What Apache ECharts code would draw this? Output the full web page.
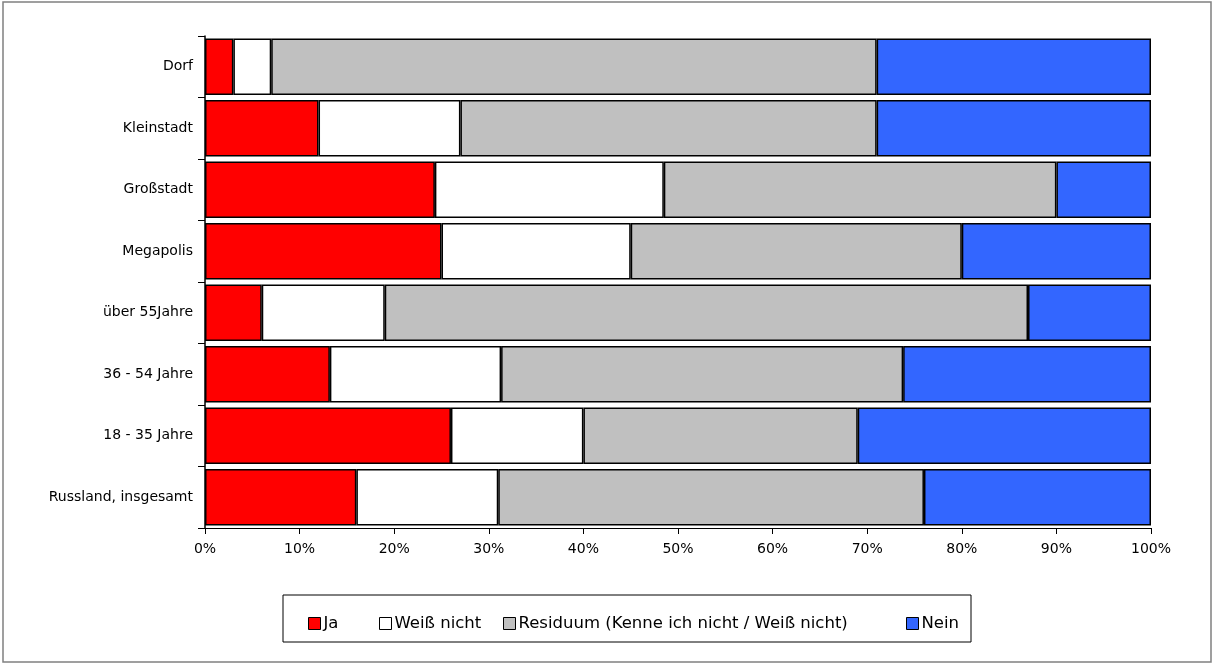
<!DOCTYPE html>
<html>
<head>
<meta charset="utf-8">
<script src="https://cdn.jsdelivr.net/npm/echarts@6/dist/echarts.min.js"></script>
<style>
  html, body { margin: 0; padding: 0; background: #fff; }
  #chart { width: 1213px; height: 665px; }
</style>
</head>
<body>
<div id="chart"></div>
<script>
// Kategorien von oben nach unten
const categories = ['Dorf', 'Kleinstadt', 'Großstadt', 'Megapolis', 'über 55Jahre', '36 - 54 Jahre', '18 - 35 Jahre', 'Russland, insgesamt'];
const ja = [3, 12, 24.3, 25, 6, 13.2, 26, 16];
const weissNicht = [4, 15, 24.2, 20, 13, 18.1, 14, 15];
const residuum = [64, 44, 41.5, 35, 68, 42.5, 29, 45];
const nein = [29, 29, 10, 20, 13, 26.2, 31, 24];
const xTicks = [0, 10, 20, 30, 40, 50, 60, 70, 80, 90, 100];
const legendNames = ['Ja', 'Weiß nicht', 'Residuum (Kenne ich nicht / Weiß nicht)', 'Nein'];

const font = '"DejaVu Sans", sans-serif';

function bar(name, data, color) {
    return {
        name: name,
        type: 'bar',
        stack: 'all',
        data: data,
        barCategoryGap: '8%',
        itemStyle: { color: color, borderColor: '#000', borderWidth: 1.5 }
    };
}

// jede Legende einzeln, damit die Abstaende wie im Original sind
const legendLeft = [303, 374, 498, 901];
const legends = legendNames.map(function (n, i) {
    return {
        left: legendLeft[i],
        top: 610,
        itemWidth: 12,
        itemHeight: 12,
        itemGap: 0,
        icon: 'rect',
        textStyle: { fontSize: 16.5, color: '#000', fontFamily: font, padding: [0, 0, 0, -2] },
        itemStyle: { borderColor: '#000', borderWidth: 1 },
        data: [n]
    };
});

const myChart = echarts.init(document.getElementById('chart'));
myChart.setOption({
    animation: false,
    textStyle: { fontFamily: font },
    graphic: [
        {
            type: 'rect',
            shape: { x: 3, y: 2, width: 1208, height: 660 },
            style: { fill: 'none', stroke: '#808080', lineWidth: 1.5 },
            silent: true
        },
        {
            type: 'rect',
            shape: { x: 283, y: 595, width: 688, height: 47 },
            style: { fill: 'none', stroke: '#000', lineWidth: 1 },
            silent: true
        }
    ],
    legend: legends,
    grid: { left: 205, right: 62, top: 36, bottom: 137 },
    xAxis: {
        type: 'value',
        min: xTicks[0],
        max: xTicks[xTicks.length - 1],
        interval: 10,
        axisLine: { show: true, lineStyle: { color: '#000', width: 1 } },
        axisTick: { show: true, length: 6, lineStyle: { color: '#000' } },
        splitLine: { show: false },
        axisLabel: { formatter: '{value}%', color: '#000', fontSize: 14, margin: 14, fontFamily: font }
    },
    yAxis: {
        type: 'category',
        inverse: true,
        data: categories,
        axisLine: { show: true, lineStyle: { color: '#000', width: 1.5 } },
        axisTick: { show: true, length: 7, lineStyle: { color: '#000' } },
        axisLabel: { color: '#000', fontSize: 14, margin: 12, fontFamily: font }
    },
    series: [
        bar('Ja', ja, '#ff0000'),
        bar('Weiß nicht', weissNicht, '#ffffff'),
        bar('Residuum (Kenne ich nicht / Weiß nicht)', residuum, '#c0c0c0'),
        bar('Nein', nein, '#3366ff')
    ]
});
</script>
</body>
</html>
